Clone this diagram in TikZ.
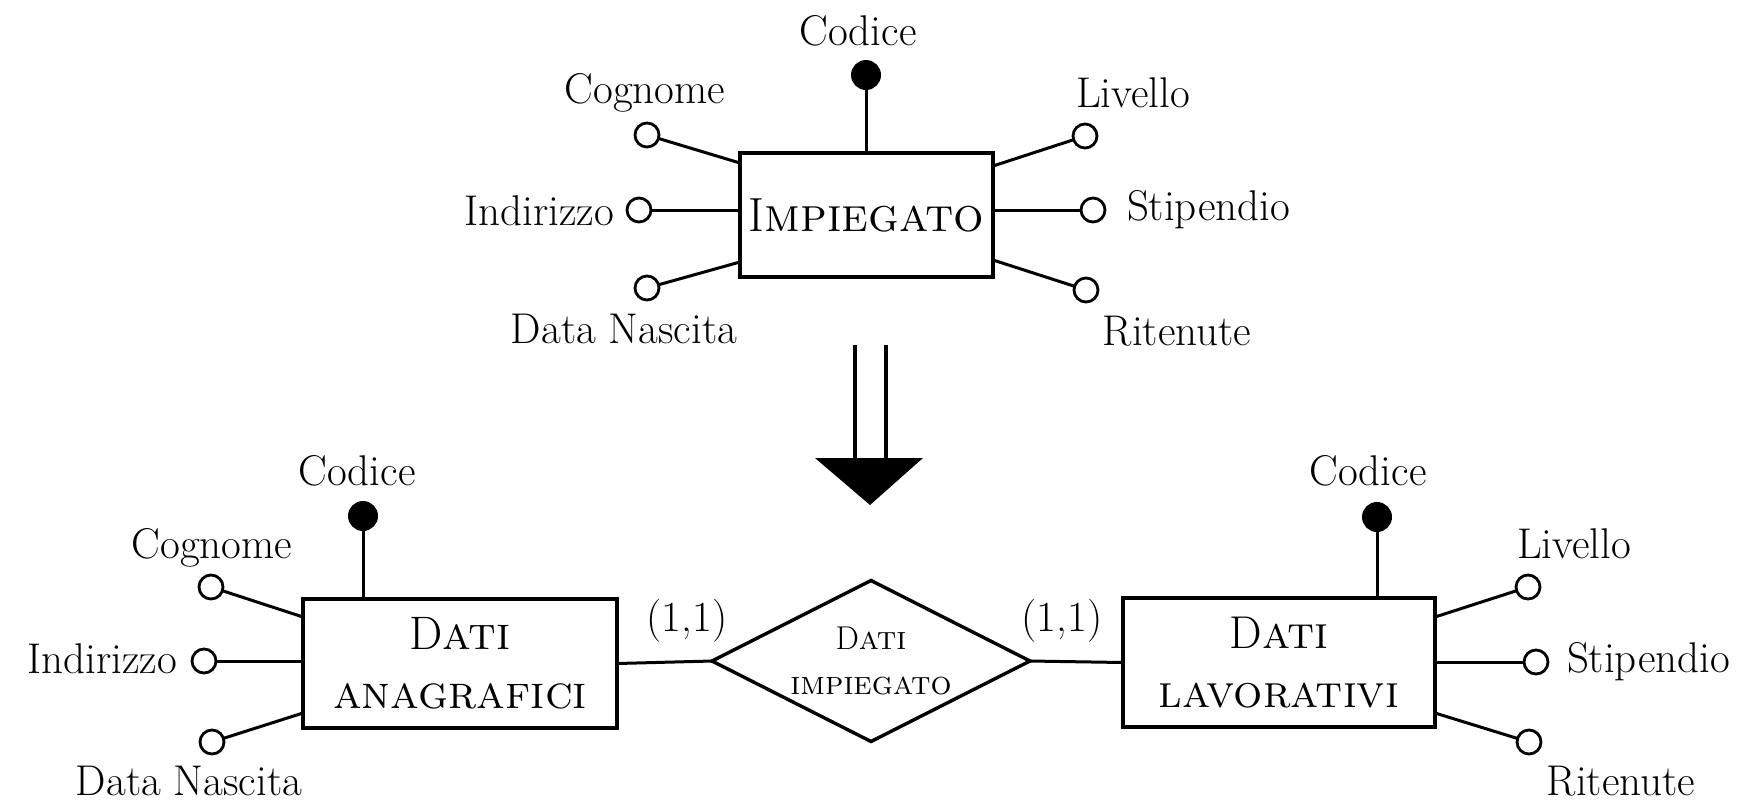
\documentclass[tikz,border=0pt]{standalone}
\usetikzlibrary{shapes.geometric}
\begin{document}
\begin{tikzpicture}[x=0.5pt,y=-0.5pt,
  every node/.style={inner sep=0pt, outer sep=0pt},
  lbl/.style={font=\fontsize{21.5}{25}\selectfont, anchor=base},
  ent/.style={draw, rectangle, line width=1.7pt, align=center},
  rel/.style={draw, diamond, aspect=2, line width=1.7pt, align=center},
  attr/.style={circle, draw, line width=1.4pt, fill=white, minimum size=12pt},
  keyattr/.style={circle, draw, fill=black, line width=1pt, minimum size=14pt},
  conn/.style={line width=1.5pt},
  arrowline/.style={line width=2pt}]
\useasboundingbox (0,0) rectangle (1744,804);

% ---------- top entity ----------
\node[ent, minimum width=126.5pt, minimum height=62pt, font=\fontsize{24}{28}\selectfont] (imp) at (866.5,215) {I\textsc{mpiegato}};

\node[keyattr] (k1) at (866,75) {};
\node[attr] (a1) at (647,135) {};
\node[attr] (a2) at (639,210) {};
\node[attr] (a3) at (647,288) {};
\node[attr] (a4) at (1085,136) {};
\node[attr] (a5) at (1093,210) {};
\node[attr] (a6) at (1086,290) {};

\draw[conn] (k1) -- (k1 |- imp.north);
\draw[conn] (a1) -- ([yshift=26pt]imp.west);
\draw[conn] (a2) -- (a2 -| imp.west);
\draw[conn] (a3) -- ([yshift=-23.5pt]imp.west);
\draw[conn] (a4) -- ([yshift=24.5pt]imp.east);
\draw[conn] (a5) -- (a5 -| imp.east);
\draw[conn] (a6) -- ([yshift=-22.5pt]imp.east);

\node[lbl] (t1) at (858,45) {Codice};
\node[lbl] (t2) at (645,103) {Cognome};
\node[lbl, anchor=base east] (t3) at (614,225) {Indirizzo};
\node[lbl] (t4) at (624,343) {Data Nascita};
\node[lbl] (t5) at (1133,107) {Livello};
\node[lbl, anchor=base west] (t6) at (1127,220) {Stipendio};
\node[lbl] (t7) at (1177,345) {Ritenute};

% ---------- arrow ----------
\coordinate (ar1) at (855,345);
\coordinate (ar2) at (886,345);
\coordinate (ar3) at (855,460);
\coordinate (ar4) at (886,460);
\draw[arrowline] (ar1) -- (ar3);
\draw[arrowline] (ar2) -- (ar4);
\coordinate (tri1) at (815,458);
\coordinate (tri2) at (923,458);
\coordinate (tri3) at (870,505);
\fill (tri1) -- (tri2) -- (tri3) -- cycle;

% ---------- bottom entities ----------
\node[ent, minimum width=157pt, minimum height=64.5pt, font=\fontsize{23.5}{29.5}\selectfont] (ana) at (460,663.5) {D\textsc{ati}\\\textsc{anagrafici}};
\node[ent, minimum width=156pt, minimum height=64.5pt, font=\fontsize{23}{29.5}\selectfont] (lav) at (1279,662.5) {D\textsc{ati}\\\textsc{lavorativi}};
\node[rel, minimum width=159pt, minimum height=80.5pt, font=\fontsize{16.5}{22.5}\selectfont] (rel) at (871,661) {D\textsc{ati}\\\textsc{impiegato}};

\draw[conn] (ana.east) -- (rel.west);
\draw[conn] (rel.east) -- (lav.west);
\node[lbl] (c1) at (687,631) {(1,1)};
\node[lbl] (c2) at (1062,631) {(1,1)};

% left attributes
\node[keyattr] (k2) at (363,516) {};
\node[attr] (b1) at (211,587) {};
\node[attr] (b2) at (204,661) {};
\node[attr] (b3) at (212,742) {};
\draw[conn] (k2) -- (k2 |- ana.north);
\draw[conn] (b1) -- ([yshift=23.25pt]ana.west);
\draw[conn] (b2) -- (b2 -| ana.west);
\draw[conn] (b3) -- ([yshift=-24.75pt]ana.west);
\node[lbl] (u1) at (357,485) {Codice};
\node[lbl] (u2) at (212,558) {Cognome};
\node[lbl, anchor=base east] (u3) at (177,673) {Indirizzo};
\node[lbl] (u4) at (189,795) {Data Nascita};

% right attributes
\node[keyattr] (k3) at (1377,517) {};
\node[attr] (d1) at (1528,587) {};
\node[attr] (d2) at (1536,662) {};
\node[attr] (d3) at (1529,742) {};
\draw[conn] (k3) -- (k3 |- lav.north);
\draw[conn] (d1) -- ([yshift=22.75pt]lav.east);
\draw[conn] (d2) -- (d2 -| lav.east);
\draw[conn] (d3) -- ([yshift=-25.25pt]lav.east);
\node[lbl] (v1) at (1368,485) {Codice};
\node[lbl] (v2) at (1574,558) {Livello};
\node[lbl, anchor=base west] (v3) at (1567,672) {Stipendio};
\node[lbl] (v4) at (1621,795) {Ritenute};
\end{tikzpicture}
\end{document}
